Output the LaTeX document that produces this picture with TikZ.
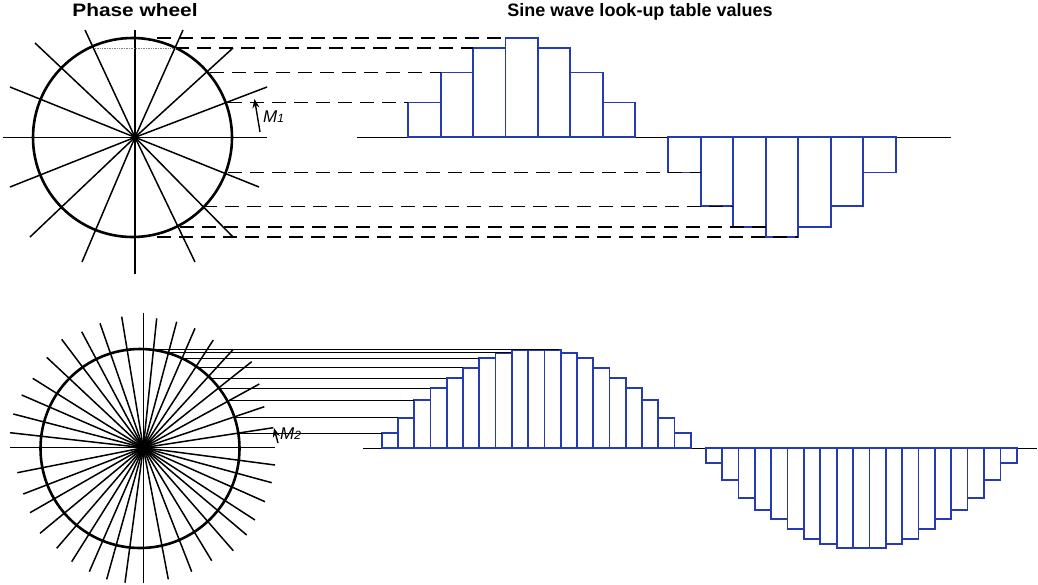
\documentclass[tikz,border=0pt]{standalone}
\usepackage{fontspec}
\setmainfont{Liberation Sans}
\usetikzlibrary{arrows.meta}
\definecolor{barblue}{RGB}{38,58,178}
\tikzset{
  wheel/.style={line width=2.6pt},
  spoke/.style={line width=1.5pt},
  baseline/.style={line width=1.6pt},
  lutbar/.style={draw=barblue,fill=white,line width=1.7pt},
  guide/.style={line width=1.6pt,dash pattern=on 14pt off 8pt},
  thinguide/.style={line width=1pt},
  title/.style={font=\bfseries\fontsize{18}{20}\selectfont,inner sep=0pt,anchor=base},
  marker/.style={font=\itshape\fontsize{17}{19}\selectfont,inner sep=0pt,anchor=west}
}
\newcommand{\smalldigit}[1]{{\fontsize{12}{12}\selectfont #1}}
\begin{document}
\begin{tikzpicture}[>={Stealth[length=9pt,width=7pt]},x=1pt,y=-1pt]
  \useasboundingbox (0,0) rectangle (1038,584);
  \node[title] (phasetitle) at (135,16.7) {\scalebox{1.16}[1]{Phase wheel}};
  \node[title] (tabletitle) at (640,16.7) {Sine wave look-up table values};

  % coarse wheel, 16 spokes
  \coordinate (hub1) at (135,137.3);
  \foreach \x/\y in {135/30,135/274,267/137.3,3/137.3,183/30,85/30,233/48,35/43,
                     267/87,10/87,259/187,10/187,233/237,30/237,195/262,82/262}
    \draw[spoke] (hub1) -- (\x,\y);
  \draw[wheel] (132.5,137.5) circle (99.5);

  \draw[baseline] (357,137.3) -- (951,137.3);
  \foreach \h [count=\i from 0] in {34.8,64.8,89.3,99.3,89.3,64.8,34.8}
    \draw[lutbar] (408.3+32.4*\i,137.3) rectangle ++(32.4,-\h);
  \foreach \h [count=\i from 0] in {35.2,69,89.4,99.4,89.4,69,35.2}
    \draw[lutbar] (668.3+32.5*\i,137.3) rectangle ++(32.5,\h);

  \foreach \a/\y/\b in {157/38/505.7,175/48/472.7,210/72.5/440.7,228/102.5/408.3,
                        228/172.5/700.7,203/206.3/732.7,180/226.7/765.7,157/236.7/797.7}
    \draw[guide] (\a,\y) -- (\b,\y);
  \draw[gray,densely dotted,line width=0.7pt] (95,48) -- (175,48);

  \coordinate (m1tail) at (260,132);
  \coordinate (m1tip) at (254.5,99);
  \draw[->,line width=1.4pt] (m1tail) -- (m1tip);
  \node[marker] (m1label) at (263,117) {M\smalldigit{1}};

  % fine wheel, 40 spokes
  \coordinate (hub2) at (143.3,447.7);
  \foreach \x/\y in {273.3/427.7,264.3/406.7,259.3/384,251.7/361.7,233.3/349.3,
                     213.3/340,195/328.3,176.7/321.7,156.7/318.3,143.3/313.3,
                     121.7/316.7,100/323.3,81.7/331.7,61.7/339.3,46.7/357.3,
                     32.7/378.3,21.7/395,13.3/414,10/432.7,10/447.7,275/447.7,
                     17.3/472.7,23.3/494,30/512.7,40/533.3,56.7/548.3,71.7/561.7,
                     89.3/571.7,106.7/579.3,125/582.7,143.3/583.3,168.3/579.3,
                     191.7/571.7,211.7/560.7,233.3/550.7,246.7/535,255/520,
                     265/501.7,271.7/482.7,275/465}
    \draw[spoke] (hub2) -- (\x,\y);
  \draw[wheel] (140,448.5) circle (99.5);

  \draw[baseline] (363,448.3) -- (1037,448.3);
  \foreach \h [count=\i from 0] in {15,30.6,48.3,60.6,70,80.6,90.6,95,98.3,98.3,
                                    98.3,95,90.6,80.6,70,60.6,48.3,30.6,15}
    \draw[lutbar] (381.7+16.27*\i,448.3) rectangle ++(16.27,-\h);
  \foreach \h [count=\i from 0] in {15,31.7,49.4,61.7,71,81,91,95.7,99.4,99.4,
                                    99.4,95.7,91,81,71,61.7,49.4,31.7,15}
    \draw[lutbar] (705.7+16.37*\i,448.3) rectangle ++(16.37,\h);

  \foreach \a/\y/\b in {238.3/433.3/381.7,234.6/417.7/397.7,227.2/400.5/414,
                        219/388/430,210.2/378/446.3,198/367.7/462.7,
                        181.4/358/478.7,166/352.5/511.3,155/349.3/559.3}
    \draw[thinguide] (\a,\y) -- (\b,\y);

  \coordinate (m2tail) at (278,443);
  \coordinate (m2tip) at (274,428);
  \draw[->,line width=1.4pt] (m2tail) -- (m2tip);
  \node[marker] (m2label) at (280,434) {M\smalldigit{2}};
\end{tikzpicture}
\end{document}
